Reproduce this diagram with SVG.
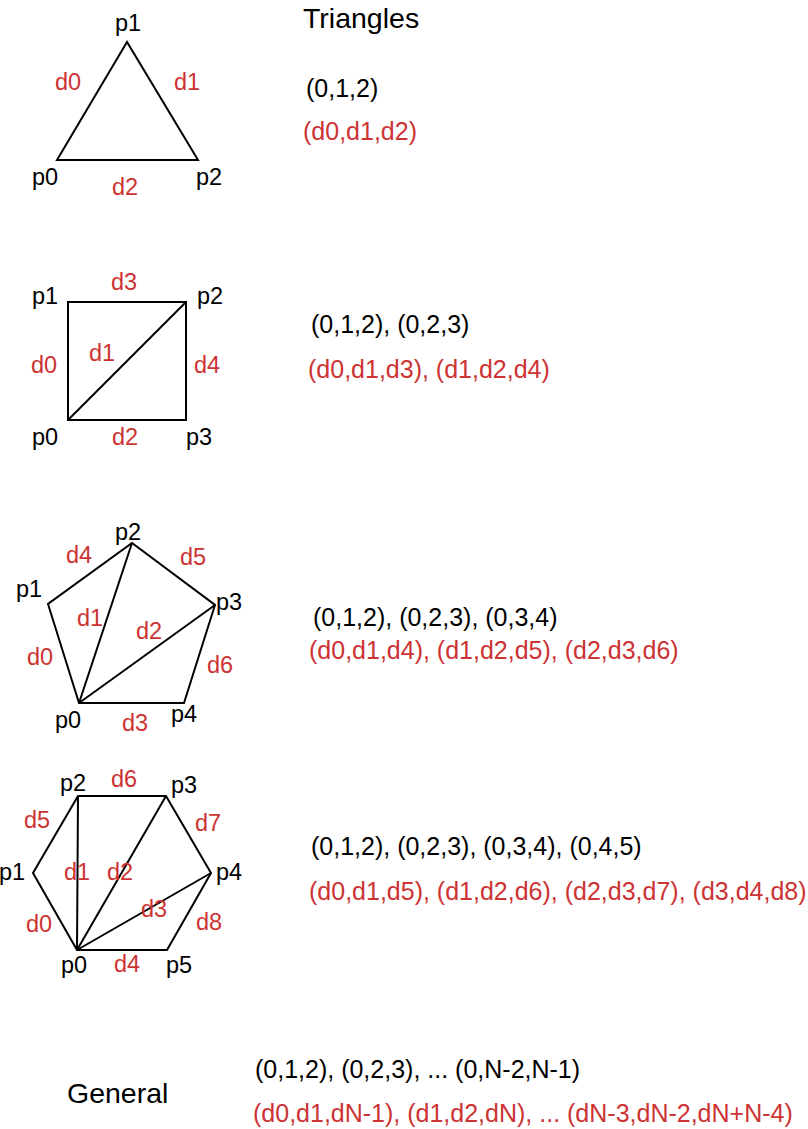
<svg xmlns="http://www.w3.org/2000/svg" width="808" height="1129" viewBox="0 0 808 1129">
<style>
.e{fill:none;stroke:#000;stroke-width:2;stroke-linejoin:miter}
text{font-family:"Liberation Sans",Arial,sans-serif}
.p{font-size:23.5px;fill:#000}
.d{font-size:23.5px;fill:#cc3333}
.t{font-size:25px;fill:#000}
.r{font-size:25px;fill:#cc3333}
.h{font-size:28.5px;fill:#000}
</style>
<rect width="808" height="1129" fill="#fff"/>
<g id="connectors">
<polygon class="e" points="127,42 57,160 198,160"/>
<polygon class="e" points="68,302 186,302 186,420 68,420"/>
<line class="e" x1="68" y1="420" x2="186" y2="302"/>
<polygon class="e" points="79,703 48,604 132,543 215,605 184,703"/>
<line class="e" x1="79" y1="703" x2="132" y2="543"/>
<line class="e" x1="79" y1="703" x2="215" y2="605"/>
<polygon class="e" points="77,950 33,873 78,796 166,796 211,873 167,950"/>
<line class="e" x1="77" y1="950" x2="78" y2="796"/>
<line class="e" x1="77" y1="950" x2="166" y2="796"/>
<line class="e" x1="77" y1="950" x2="211" y2="873"/>
</g>
<g id="triangle">
<text class="p" x="115" y="31">p1</text>
<text class="d" x="55" y="90">d0</text>
<text class="d" x="174" y="90">d1</text>
<text class="p" x="32" y="185">p0</text>
<text class="d" x="112" y="195">d2</text>
<text class="p" x="196" y="185">p2</text>
</g>
<g id="square">
<text class="p" x="32" y="304">p1</text>
<text class="d" x="111" y="290">d3</text>
<text class="p" x="197" y="304">p2</text>
<text class="d" x="31" y="373">d0</text>
<text class="d" x="89" y="361">d1</text>
<text class="d" x="194" y="373">d4</text>
<text class="p" x="32" y="445">p0</text>
<text class="d" x="112" y="445">d2</text>
<text class="p" x="186" y="445">p3</text>
</g>
<g id="pentagon">
<text class="p" x="115" y="540">p2</text>
<text class="d" x="66" y="563">d4</text>
<text class="d" x="180" y="565">d5</text>
<text class="p" x="16" y="597">p1</text>
<text class="p" x="216" y="610">p3</text>
<text class="d" x="77" y="626">d1</text>
<text class="d" x="136" y="639">d2</text>
<text class="d" x="27" y="665">d0</text>
<text class="d" x="207" y="673">d6</text>
<text class="p" x="55" y="728">p0</text>
<text class="d" x="122" y="731">d3</text>
<text class="p" x="171" y="722">p4</text>
</g>
<g id="hexagon">
<text class="p" x="60" y="791">p2</text>
<text class="d" x="111" y="787">d6</text>
<text class="p" x="171" y="793">p3</text>
<text class="d" x="24" y="828">d5</text>
<text class="d" x="195" y="831">d7</text>
<text class="p" x="-1" y="880">p1</text>
<text class="d" x="64" y="880">d1</text>
<text class="d" x="107" y="880">d2</text>
<text class="p" x="216" y="880">p4</text>
<text class="d" x="141" y="917">d3</text>
<text class="d" x="26" y="932">d0</text>
<text class="d" x="196" y="930">d8</text>
<text class="p" x="61" y="973">p0</text>
<text class="d" x="114" y="972">d4</text>
<text class="p" x="166" y="973">p5</text>
</g>
<g id="labels">
<text class="h" x="303" y="28">Triangles</text>
<text class="t" x="306" y="97">(0,1,2)</text>
<text class="r" x="303" y="140">(d0,d1,d2)</text>
<text class="t" x="311" y="333">(0,1,2), (0,2,3)</text>
<text class="r" x="308" y="378">(d0,d1,d3), (d1,d2,d4)</text>
<text class="t" x="313" y="626">(0,1,2), (0,2,3), (0,3,4)</text>
<text class="r" x="309" y="659">(d0,d1,d4), (d1,d2,d5), (d2,d3,d6)</text>
<text class="t" x="311" y="855">(0,1,2), (0,2,3), (0,3,4), (0,4,5)</text>
<text class="r" x="309" y="900">(d0,d1,d5), (d1,d2,d6), (d2,d3,d7), (d3,d4,d8)</text>
<text class="h" x="67" y="1103">General</text>
<text class="t" x="255" y="1078">(0,1,2), (0,2,3), ... (0,N-2,N-1)</text>
<text class="r" x="253" y="1122">(d0,d1,dN-1), (d1,d2,dN), ... (dN-3,dN-2,dN+N-4)</text>
</g>
</svg>
